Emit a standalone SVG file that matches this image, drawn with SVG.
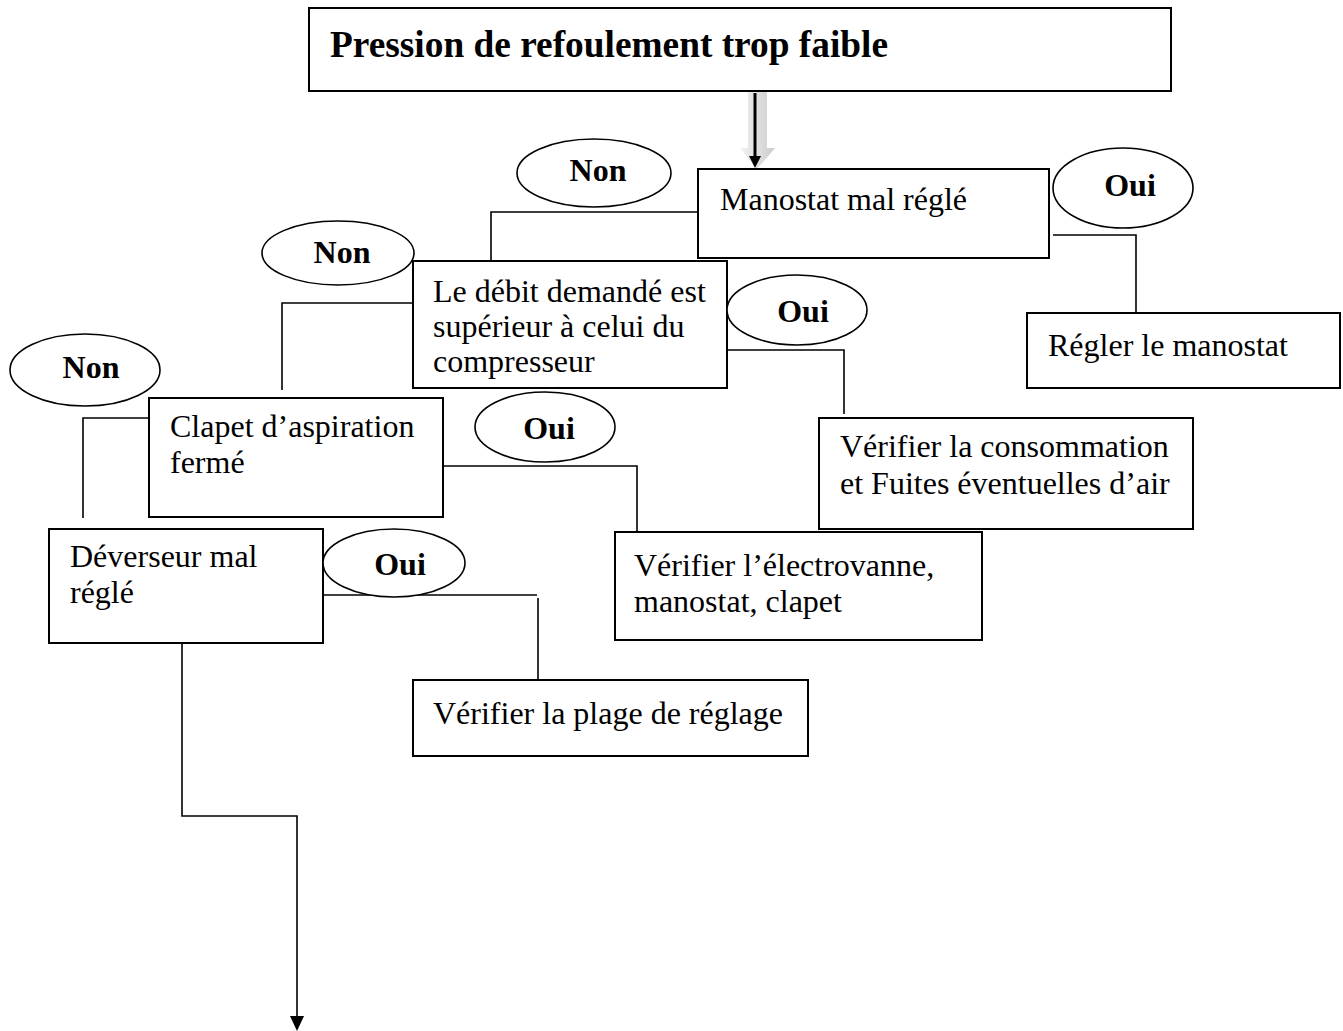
<svg xmlns="http://www.w3.org/2000/svg" width="1343" height="1031" viewBox="0 0 1343 1031">
  <style>
    .box { fill: #fff; stroke: #000; stroke-width: 2; }
    .oval { fill: #fff; stroke: #000; stroke-width: 1.6; }
    .txt { font-family: "Liberation Serif", "Times New Roman", serif; font-size: 32px; fill: #000; }
    .lbl { font-family: "Liberation Serif", "Times New Roman", serif; font-size: 32px; font-weight: bold; fill: #000; text-anchor: middle; }
    .title { font-family: "Liberation Serif", "Times New Roman", serif; font-size: 37px; font-weight: bold; fill: #000; }
    .wire { fill: none; stroke: #000; stroke-width: 1.6; }
  </style>
  <defs>
    <linearGradient id="shade" x1="0" y1="0" x2="1" y2="0">
      <stop offset="0" stop-color="#f2f2f2"/>
      <stop offset="1" stop-color="#cccccc"/>
    </linearGradient>
  </defs>
  <rect width="1343" height="1031" fill="#fff"/>

  <!-- connectors -->
  <g id="connectors">
    <!-- shaded block arrow under the main arrow -->
    <polygon points="748,91 767,91 767,148 775,148 757,169 740,148 748,148" fill="url(#shade)"/>
    <line x1="755" y1="93" x2="755" y2="158" stroke="#000" stroke-width="3"/>
    <polygon points="749,156 761,156 755,168" fill="#000"/>
    <!-- Non: Manostat -> Débit -->
    <polyline class="wire" points="698,212 491,212 491,261"/>
    <!-- Oui: Manostat -> Régler -->
    <polyline class="wire" points="1053,235 1136,235 1136,313"/>
    <!-- Non: Débit -> Clapet -->
    <polyline class="wire" points="413,303 282,303 282,390"/>
    <!-- Oui: Débit -> Vérifier consommation -->
    <polyline class="wire" points="727,350 844,350 844,414"/>
    <!-- Non: Clapet -> Déverseur -->
    <polyline class="wire" points="149,418 83,418 83,518"/>
    <!-- Oui: Clapet -> Vérifier électrovanne -->
    <polyline class="wire" points="443,466 637,466 637,532"/>
    <!-- Oui: Déverseur -> Vérifier plage -->
    <polyline class="wire" points="323,595 537,595"/>
    <line class="wire" x1="538" y1="598" x2="538" y2="680"/>
    <!-- Non: Déverseur -> suite -->
    <polyline class="wire" points="182,643 182,816 297,816 297,1018"/>
    <polygon points="290,1016 304,1016 297,1031" fill="#000"/>
  </g>

  <!-- nodes -->
  <g id="start">
    <rect class="box" x="309" y="8" width="862" height="83"/>
    <text class="title" x="330" y="57" textLength="558" lengthAdjust="spacingAndGlyphs">Pression de refoulement trop faible</text>
  </g>

  <g id="manostat">
    <rect class="box" x="698" y="169" width="351" height="89"/>
    <text class="txt" x="720" y="210">Manostat mal réglé</text>
  </g>

  <g id="non-1">
    <ellipse class="oval" cx="594" cy="173" rx="77" ry="34"/>
    <text class="lbl" x="598" y="181">Non</text>
  </g>

  <g id="oui-1">
    <ellipse class="oval" cx="1123" cy="188" rx="70" ry="40"/>
    <text class="lbl" x="1130" y="196">Oui</text>
  </g>

  <g id="regler">
    <rect class="box" x="1027" y="313" width="313" height="75"/>
    <text class="txt" x="1048" y="356">Régler le manostat</text>
  </g>

  <g id="debit">
    <rect class="box" x="413" y="261" width="314" height="127"/>
    <text class="txt" x="433" y="302">Le débit demandé est</text>
    <text class="txt" x="433" y="337">supérieur à celui du</text>
    <text class="txt" x="433" y="372">compresseur</text>
  </g>

  <g id="non-2">
    <ellipse class="oval" cx="338" cy="253" rx="76" ry="32"/>
    <text class="lbl" x="342" y="263">Non</text>
  </g>

  <g id="oui-2">
    <ellipse class="oval" cx="797" cy="310" rx="70" ry="35"/>
    <text class="lbl" x="803" y="322">Oui</text>
  </g>

  <g id="consommation">
    <rect class="box" x="819" y="418" width="374" height="111"/>
    <text class="txt" x="840" y="457">Vérifier la consommation</text>
    <text class="txt" x="840" y="494">et Fuites éventuelles d’air</text>
  </g>

  <g id="clapet">
    <rect class="box" x="149" y="398" width="294" height="119"/>
    <text class="txt" x="170" y="437">Clapet d’aspiration</text>
    <text class="txt" x="170" y="473">fermé</text>
  </g>

  <g id="non-3">
    <ellipse class="oval" cx="85" cy="370" rx="75" ry="36"/>
    <text class="lbl" x="91" y="378">Non</text>
  </g>

  <g id="oui-3">
    <ellipse class="oval" cx="545" cy="427" rx="70" ry="35"/>
    <text class="lbl" x="549" y="439">Oui</text>
  </g>

  <g id="electrovanne">
    <rect class="box" x="615" y="532" width="367" height="108"/>
    <text class="txt" x="634" y="576">Vérifier l’électrovanne,</text>
    <text class="txt" x="634" y="612">manostat, clapet</text>
  </g>

  <g id="deverseur">
    <rect class="box" x="49" y="529" width="274" height="114"/>
    <text class="txt" x="70" y="567">Déverseur mal</text>
    <text class="txt" x="70" y="603">réglé</text>
  </g>

  <g id="oui-4">
    <ellipse class="oval" cx="394" cy="563" rx="71" ry="34"/>
    <text class="lbl" x="400" y="575">Oui</text>
  </g>

  <g id="plage">
    <rect class="box" x="413" y="680" width="395" height="76"/>
    <text class="txt" x="433" y="724">Vérifier la plage de réglage</text>
  </g>
</svg>
